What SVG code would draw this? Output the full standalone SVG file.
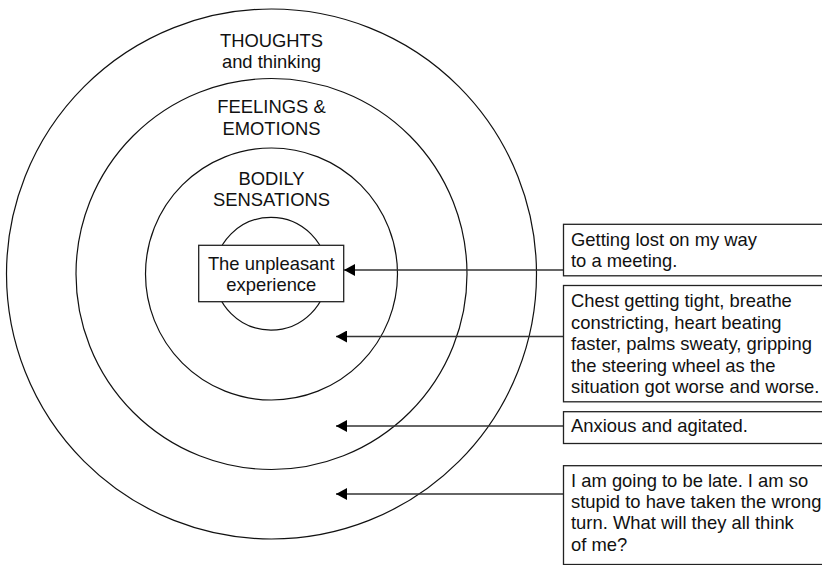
<svg xmlns="http://www.w3.org/2000/svg" width="822" height="565" viewBox="0 0 822 565">
  <style>
    .ring { fill: none; stroke: #111; stroke-width: 1.2; }
    .box { fill: #fff; stroke: #222; stroke-width: 1.3; }
    .lbl { font-family: "Liberation Sans", Arial, Helvetica, sans-serif; font-size: 18.4px; fill: #111; }
    .mid { text-anchor: middle; }
    .link { stroke: #333; stroke-width: 1.3; fill: none; marker-end: url(#tip); }
  </style>
  <defs>
    <marker id="tip" viewBox="0 0 11 12" refX="11" refY="6" markerWidth="11" markerHeight="12" markerUnits="userSpaceOnUse" orient="auto">
      <path d="M0,0 L11,6 L0,12 Z" fill="#000"/>
    </marker>
  </defs>
  <rect width="822" height="565" fill="#fff"/>

  <!-- concentric layers -->
  <g id="layer-thoughts">
    <circle class="ring" cx="271.5" cy="274" r="265"/>
    <text class="lbl mid" x="271.5" y="46.7">THOUGHTS</text>
    <text class="lbl mid" x="271.5" y="67.5">and thinking</text>
  </g>
  <g id="layer-feelings">
    <circle class="ring" cx="271.5" cy="274" r="195.5"/>
    <text class="lbl mid" x="271.5" y="113.3">FEELINGS &amp;</text>
    <text class="lbl mid" x="271.5" y="135">EMOTIONS</text>
  </g>
  <g id="layer-body">
    <circle class="ring" cx="271.5" cy="274" r="126"/>
    <text class="lbl mid" x="271.5" y="185">BODILY</text>
    <text class="lbl mid" x="271.5" y="205.7">SENSATIONS</text>
  </g>
  <g id="core">
    <circle class="ring" cx="271" cy="273.7" r="56.4"/>
    <rect class="box" x="198.7" y="245.3" width="145" height="56.4"/>
    <text class="lbl mid" x="271.3" y="270">The unpleasant</text>
    <text class="lbl mid" x="271.3" y="290.8">experience</text>
  </g>

  <!-- connectors -->
  <g id="connectors">
    <line class="link" x1="563.5" y1="270" x2="344" y2="270"/>
    <line class="link" x1="563.5" y1="336.5" x2="336" y2="336.5"/>
    <line class="link" x1="563.5" y1="426" x2="336" y2="426"/>
    <line class="link" x1="563.5" y1="494" x2="336" y2="494"/>
  </g>

  <!-- example notes -->
  <g id="note-event">
    <rect class="box" x="563.5" y="224.3" width="270" height="51.5"/>
    <text class="lbl" x="571" y="245.8">Getting lost on my way</text>
    <text class="lbl" x="571" y="266.8">to a meeting.</text>
  </g>
  <g id="note-body">
    <rect class="box" x="563.5" y="285.5" width="270" height="116.3"/>
    <text class="lbl" x="571" y="307">Chest getting tight, breathe</text>
    <text class="lbl" x="571" y="328.5">constricting, heart beating</text>
    <text class="lbl" x="571" y="350">faster, palms sweaty, gripping</text>
    <text class="lbl" x="571" y="371.5">the steering wheel as the</text>
    <text class="lbl" x="571" y="393">situation got worse and worse.</text>
  </g>
  <g id="note-feelings">
    <rect class="box" x="563.5" y="411.7" width="270" height="31.8"/>
    <text class="lbl" x="571" y="431.7">Anxious and agitated.</text>
  </g>
  <g id="note-thoughts">
    <rect class="box" x="563.5" y="465.7" width="270" height="98.8"/>
    <text class="lbl" x="571" y="487">I am going to be late. I am so</text>
    <text class="lbl" x="571" y="508">stupid to have taken the wrong</text>
    <text class="lbl" x="571" y="529">turn. What will they all think</text>
    <text class="lbl" x="571" y="550.5">of me?</text>
  </g>
</svg>
